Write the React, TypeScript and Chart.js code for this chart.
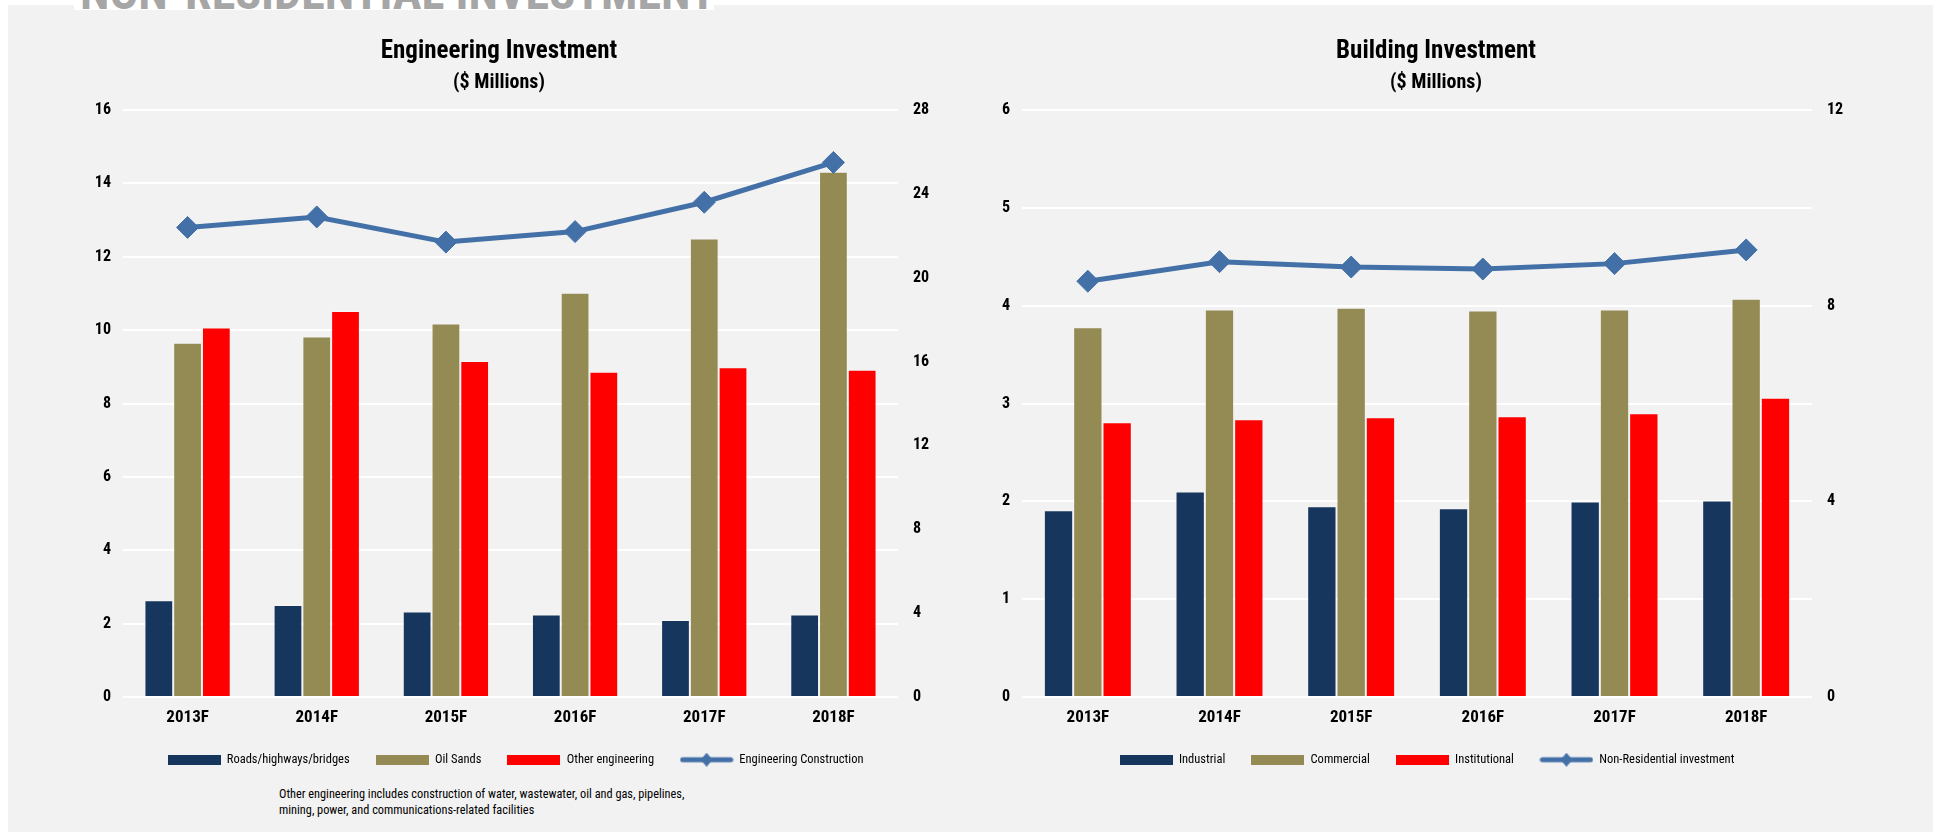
import React, { useEffect, useRef } from "react";
import { Chart, registerables } from "chart.js";
Chart.register(...registerables);

const categories = ["2013F", "2014F", "2015F", "2016F", "2017F", "2018F"];
// Engineering Investment ($ Millions)
const roads = [2.64, 2.51, 2.33, 2.25, 2.1, 2.25];
const oilSands = [9.66, 9.83, 10.18, 11.02, 12.5, 14.32];
const otherEngineering = [10.07, 10.52, 9.16, 8.87, 8.99, 8.92];
const engineeringConstruction = [22.4, 22.9, 21.7, 22.2, 23.6, 25.5];
// Building Investment ($ Millions)
const industrial = [1.91, 2.1, 1.95, 1.93, 2.0, 2.01];
const commercial = [3.78, 3.96, 3.98, 3.95, 3.96, 4.07];
const institutional = [2.81, 2.84, 2.86, 2.87, 2.9, 3.06];
const nonResidential = [8.5, 8.9, 8.79, 8.75, 8.86, 9.14];

const NAVY = "#17365d";
const OLIVE = "#948a54";
const RED = "#ff0000";
const BLUE = "#4470a8";

const FAMILY = '"Roboto Condensed", "Open Sans Condensed", "DejaVu Sans Condensed", sans-serif';

function swatch(color: string): HTMLCanvasElement {
  const c = document.createElement("canvas");
  c.width = 53;
  c.height = 10;
  const g = c.getContext("2d")!;
  g.fillStyle = color;
  g.fillRect(0, 0, 53, 10);
  return c;
}
function lineSwatch(color: string): HTMLCanvasElement {
  const c = document.createElement("canvas");
  c.width = 54;
  c.height = 14;
  const g = c.getContext("2d")!;
  g.strokeStyle = color;
  g.lineWidth = 5;
  g.lineCap = "round";
  g.beginPath();
  g.moveTo(3, 7);
  g.lineTo(51, 7);
  g.stroke();
  g.fillStyle = color;
  g.beginPath();
  g.moveTo(27, 0);
  g.lineTo(33, 7);
  g.lineTo(27, 14);
  g.lineTo(21, 7);
  g.closePath();
  g.fill();
  return c;
}

type Spec = {
  title: string;
  barLabels: string[];
  barData: number[][];
  lineLabel: string;
  lineData: number[];
  leftMax: number;
  leftStep: number;
  rightMax: number;
  rightStep: number;
  leftW: number;
  rightW: number;
  width: number;
  height: number;
  legendShift: number;
};

function ChartPanel({ spec }: { spec: Spec }) {
  const ref = useRef<HTMLCanvasElement>(null);
  useEffect(() => {
    const colors = [NAVY, OLIVE, RED];
    const sw = [swatch(NAVY), swatch(OLIVE), swatch(RED), lineSwatch(BLUE)];
    const datasets: any[] = spec.barData.map((d, i) => ({
      type: "bar",
      label: spec.barLabels[i],
      data: d,
      backgroundColor: colors[i],
      borderColor: "rgba(255,255,255,0.25)",
      borderWidth: 1,
      yAxisID: "y",
      order: 1,
      categoryPercentage: 0.668,
      barPercentage: 1.0,
    }));
    datasets.push({
      type: "line",
      label: spec.lineLabel,
      data: spec.lineData,
      borderColor: BLUE,
      backgroundColor: BLUE,
      borderWidth: 5,
      pointStyle: "rectRot",
      pointRadius: 11,
      pointBackgroundColor: BLUE,
      pointBorderColor: BLUE,
      pointBorderWidth: 1,
      yAxisID: "y1",
      order: 0,
      tension: 0,
    });
    const shiftPlugin = {
      id: "legendShift",
      afterLayout(ch: any) {
        if (ch.legend) {
          ch.legend.left += spec.legendShift;
          ch.legend.right += spec.legendShift;
        }
      },
    };
    const chart = new Chart(ref.current!, {
      type: "bar",
      data: { labels: categories, datasets },
      plugins: [shiftPlugin],
      options: {
        animation: false,
        responsive: false,
        devicePixelRatio: 1,
        layout: { autoPadding: false, padding: { left: 0, right: 0, top: 0, bottom: 10 } },
        plugins: {
          tooltip: { enabled: false },
          title: {
            display: true,
            text: spec.title,
            color: "#000",
            font: { family: FAMILY, size: 25, weight: "bold" },
            padding: { top: 31.5, bottom: 4 },
          },
          subtitle: {
            display: true,
            text: "($ Millions)",
            color: "#000",
            font: { family: FAMILY, size: 20, weight: "bold" },
            padding: { top: 0, bottom: 15.5 },
          },
          legend: {
            position: "bottom",
            fullSize: false,
            labels: {
              usePointStyle: true,
              pointStyleWidth: 53,
              boxHeight: 10,
              padding: 26,
              color: "#000",
              font: { family: FAMILY, size: 12.5 },
              generateLabels: (ch: any) =>
                ch.data.datasets.map((ds: any, i: number) => ({
                  text: ds.label,
                  pointStyle: sw[i],
                  fillStyle: "transparent",
                  strokeStyle: "transparent",
                  lineWidth: 0,
                  hidden: false,
                  datasetIndex: i,
                  fontColor: "#000",
                })),
            },
          },
        },
        scales: {
          x: {
            grid: { display: false, drawTicks: false },
            border: { display: false },
            ticks: { color: "#000", padding: 10, font: { family: FAMILY, size: 17, weight: "bold" } },
            afterFit: (s: any) => {
              s.height = s.height - 10;
            },
          },
          y: {
            position: "left",
            min: 0,
            max: spec.leftMax,
            grid: { color: "#ffffff", lineWidth: 2, drawTicks: false },
            border: { display: false },
            ticks: { stepSize: spec.leftStep, color: "#000", padding: 12, font: { family: FAMILY, size: 16, weight: "bold" } },
            afterFit: (s: any) => {
              s.width = spec.leftW;
            },
          },
          y1: {
            position: "right",
            min: 0,
            max: spec.rightMax,
            grid: { display: false, drawTicks: false },
            border: { display: false },
            ticks: { stepSize: spec.rightStep, color: "#000", padding: 15, font: { family: FAMILY, size: 16, weight: "bold" } },
            afterFit: (s: any) => {
              s.width = spec.rightW;
            },
          },
        },
      } as any,
    });
    return () => chart.destroy();
  }, [spec]);
  return <canvas ref={ref} width={spec.width} height={spec.height} style={{ display: "block" }} />;
}

const engSpec: Spec = {
  title: "Engineering Investment",
  barLabels: ["Roads/highways/bridges", "Oil Sands", "Other engineering"],
  barData: [roads, oilSands, otherEngineering],
  lineLabel: "Engineering Construction",
  lineData: engineeringConstruction,
  leftMax: 16,
  leftStep: 2,
  rightMax: 28,
  rightStep: 4,
  leftW: 115,
  rightW: 92,
  width: 982,
  height: 781,
  legendShift: 5,
};
const bldSpec: Spec = {
  title: "Building Investment",
  barLabels: ["Industrial", "Commercial", "Institutional"],
  barData: [industrial, commercial, institutional],
  lineLabel: "Non-Residential investment",
  lineData: nonResidential,
  leftMax: 6,
  leftStep: 1,
  rightMax: 12,
  rightStep: 4,
  leftW: 32,
  rightW: 70,
  width: 892,
  height: 781,
  legendShift: 10,
};

export default function App() {
  return (
    <div style={{ position: "absolute", left: 0, top: 0, width: 1933, height: 832, background: "#fff", overflow: "hidden", fontFamily: FAMILY }}>
      <div style={{ position: "absolute", left: 8, top: 5, right: 0, bottom: 0, background: "#f2f2f2" }} />
      <div style={{ position: "absolute", left: 8, top: 5 }}>
        <ChartPanel spec={engSpec} />
      </div>
      <div style={{ position: "absolute", left: 990, top: 5 }}>
        <ChartPanel spec={bldSpec} />
      </div>
      <div style={{ position: "absolute", left: 74, top: 0, width: 640, height: 10, background: "#fff", overflow: "hidden" }}>
        <div style={{ position: "absolute", left: 6, top: -31, fontSize: 48, lineHeight: "48px", fontWeight: 700, color: "#a6a6a6", whiteSpace: "nowrap" }}>
          NON-RESIDENTIAL INVESTMENT
        </div>
      </div>
      <div style={{ position: "absolute", left: 279, top: 786, fontSize: 12.3, lineHeight: "16px", color: "#000" }}>
        Other engineering includes construction of water, wastewater, oil and gas, pipelines,
        <br />
        mining, power, and communications-related facilities
      </div>
    </div>
  );
}
